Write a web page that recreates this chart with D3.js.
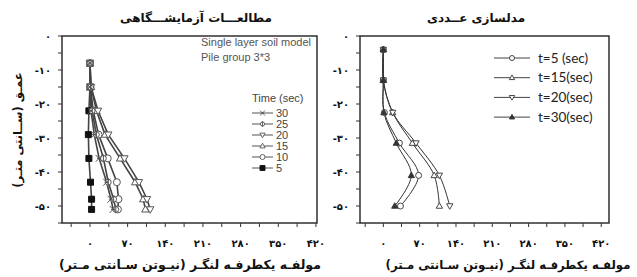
<!DOCTYPE html>
<html><head><meta charset="utf-8">
<script src="https://cdn.jsdelivr.net/npm/d3@7"></script>
<style>
html,body{margin:0;padding:0;background:#fff;}
svg{display:block;}
</style></head>
<body>
<svg id="c" width="637" height="277"></svg>
<script>
// ---------- DATA ----------
// Left panel: experimental (depth in cm, moment in N.cm)
const expDepths = [-8, -15, -22, -29, -36, -43, -48, -51];
const expT30 = [0, 0, 2, 8, 17, 31, 39, 43];
const expT25 = [0, 1, 4, 12, 25, 34, 44, 48];
const expT20 = [0, 2, 15, 34, 64, 91, 106, 112];
const expT15 = [0, 2, 12, 28, 56, 84, 99, 103];
const expT10 = [0, 1, 6, 16, 33, 50, 53, 52];
const expT5  = [0, 0, -2, -3, -2, 1, 3, 3];
const expLabels = ["30", "25", "20", "15", "10", "5"];

// Right panel: numerical
const numDepths = [-4, -13, -22.5, -31.5, -41, -50];
const numT5  = [0, 0, 2, 31, 68, 33];
const numT15 = [0, 0, 18, 56, 98, 108];
const numT20 = [0, 0, 18, 63, 108, 128];
const numT30 = [0, 0, 1, 25, 54, 22];
const numLabels = ["t=5 (sec)", "t=15(sec)", "t=20(sec)", "t=30(sec)"];

// Axis ticks
const yMajorTicks = [0, -10, -20, -30, -40, -50];
const yMinorTicks = [-5, -15, -25, -35, -45, -55];
const xMajorTicks = [0, 70, 140, 210, 280, 350, 420];
const xMinorTicks = [-35, 35, 105, 175, 245, 315, 385];

const titleLeft = "مطالعـــات آزمایشـــگاهی";
const titleRight = "مدلسازی عــددی";
const xTitleLeft = "مولفـه یکطرفـه لنگـر (نیـوتن سـانتی مـتر)";
const xTitleRight = "مولفـه یکطرفـه لنگـر (نیـوتن سـانتی مـتر)";
const yTitle = "عمـق (ســانتی متـر)";
const noteLines = ["Single layer soil model", "Pile group 3*3"];
const legendTitle = "Time (sec)";

// ---------- HELPERS ----------
const fa = n => String(n).replace(/\d/g, d => "۰۱۲۳۴۵۶۷۸۹"[+d]);
const svg = d3.select("#c");
const PFONT = "'DejaVu Sans', sans-serif";

function markerPath(kind, s) {
  const h = s / 2;
  switch (kind) {
    case "square": return `M${-h},${-h}H${h}V${h}H${-h}Z`;
    case "circle": return d3.symbol(d3.symbolCircle, Math.PI * h * h)();
    case "up": return `M0,${-h * 1.1}L${h * 1.05},${h * 0.75}L${-h * 1.05},${h * 0.75}Z`;
    case "down": return `M0,${h * 1.1}L${h * 1.05},${-h * 0.75}L${-h * 1.05},${-h * 0.75}Z`;
    case "x": return `M${-h},${-h}L${h},${h}M${-h},${h}L${h},${-h}M${-h*0.6},0H${h*0.6}`;
    case "phi": return d3.symbol(d3.symbolCircle, Math.PI * h * h * 0.7)() + `M0,${-h * 1.1}V${h * 1.1}`;
  }
}

function fitText(sel, target) {
  const w = sel.node().getComputedTextLength();
  const fs = parseFloat(sel.attr("font-size"));
  if (w > 0) sel.attr("font-size", Math.min(12.5, fs * target / w));
}

function drawAxes(g, x, y, x0, x1, y0, y1) {
  g.append("rect").attr("x", x0).attr("y", y0).attr("width", x1 - x0).attr("height", y1 - y0)
    .attr("fill", "none").attr("stroke", "#222").attr("stroke-width", 1.4);
  const yt = yMajorTicks.concat(yMinorTicks).filter(v => y(v) >= y0 - 0.5 && y(v) <= y1 + 0.5);
  g.selectAll(null).data(yt).enter().append("line")
    .attr("x1", x0 - 4).attr("x2", x0).attr("y1", d => y(d)).attr("y2", d => y(d))
    .attr("stroke", "#333").attr("stroke-width", 1);
  g.selectAll(null).data(yMajorTicks).enter().append("text")
    .attr("x", x0 - 11).attr("y", d => y(d)).attr("dy", "0.35em")
    .attr("text-anchor", "end").attr("font-family", PFONT).attr("font-weight", "bold")
    .attr("font-size", 10).attr("fill", "#111")
    .text(d => d === 0 ? "۰" : "-" + fa(-d));
  const xt = xMajorTicks.concat(xMinorTicks).filter(v => x(v) > x0 + 0.5 && x(v) < x1 - 0.5);
  g.selectAll(null).data(xt).enter().append("line")
    .attr("x1", d => x(d)).attr("x2", d => x(d)).attr("y1", y1).attr("y2", y1 + 4)
    .attr("stroke", "#333").attr("stroke-width", 1);
  g.selectAll(null).data(xMajorTicks).enter().append("text")
    .attr("x", d => x(d)).attr("y", y1 + 24)
    .attr("text-anchor", "middle").attr("font-family", PFONT).attr("font-weight", "bold")
    .attr("font-size", 10).attr("fill", "#111")
    .text(d => fa(d));
}

// ---------- LEFT PANEL ----------
{
  const x0 = 62, x1 = 317, y0 = 36, y1 = 223;
  const x = d3.scaleLinear().domain([-52, 422]).range([x0, x1]);
  const y = d3.scaleLinear().domain([0, -55]).range([y0, y1]);
  const g = svg.append("g");
  drawAxes(g, x, y, x0, x1, y0, y1);

  const series = [
    { vals: expT5, m: "square", fill: "#111" },
    { vals: expT10, m: "circle", fill: "#fff" },
    { vals: expT15, m: "up", fill: "#fff" },
    { vals: expT20, m: "down", fill: "#fff" },
    { vals: expT25, m: "phi", fill: "#fff" },
    { vals: expT30, m: "x", fill: "none" }
  ];
  const line = d3.line().x(d => x(d[0])).y(d => y(d[1]));
  series.forEach(s => {
    const pts = s.vals.map((v, i) => [v, expDepths[i]]);
    g.append("path").attr("d", line(pts)).attr("fill", "none")
      .attr("stroke", "#444").attr("stroke-width", 1.6);
  });
  series.forEach(s => {
    const pts = s.vals.map((v, i) => [v, expDepths[i]]);
    g.selectAll(null).data(pts).enter().append("path")
      .attr("transform", d => `translate(${x(d[0])},${y(d[1])})`)
      .attr("d", markerPath(s.m, s.m === "square" ? 6 : 7))
      .attr("fill", s.fill).attr("stroke", s.m === "square" ? "#111" : "#555").attr("stroke-width", 1);
  });

  g.selectAll(null).data(noteLines).enter().append("text")
    .attr("x", 201).attr("y", (d, i) => 46 + i * 15)
    .attr("font-family", "'Liberation Sans', Arial, sans-serif").attr("font-size", 11)
    .attr("fill", "#555").text(d => d);

  g.append("text").attr("x", 252).attr("y", 102)
    .attr("font-family", "'Liberation Sans', Arial, sans-serif").attr("font-size", 11)
    .attr("fill", "#444").text(legendTitle);
  const legSeries = [series[5], series[4], series[3], series[2], series[1], series[0]];
  legSeries.forEach((s, i) => {
    const ly = 113 + i * 11;
    g.append("line").attr("x1", 252).attr("x2", 273).attr("y1", ly).attr("y2", ly)
      .attr("stroke", "#555").attr("stroke-width", 1);
    g.append("path").attr("transform", `translate(262.5,${ly})`)
      .attr("d", markerPath(s.m, 5)).attr("fill", s.fill)
      .attr("stroke", s.m === "square" ? "#111" : "#555").attr("stroke-width", 0.9);
    g.append("text").attr("x", 276).attr("y", ly).attr("dy", "0.36em")
      .attr("font-family", "'Liberation Sans', Arial, sans-serif").attr("font-size", 11)
      .attr("fill", "#444").text(expLabels[i]);
  });

  g.append("text").attr("x", 196).attr("y", 22).attr("text-anchor", "middle")
    .attr("font-family", PFONT).attr("font-weight", "bold").attr("font-size", 12)
    .attr("fill", "#111").text(titleLeft);
  const xt = g.append("text").attr("x", 190).attr("y", 269).attr("text-anchor", "middle")
    .attr("font-family", PFONT).attr("font-weight", "bold").attr("font-size", 11.5)
    .attr("fill", "#111").text(xTitleLeft);
  fitText(xt, 272);
  g.append("text").attr("transform", "translate(22,130) rotate(-90)").attr("text-anchor", "middle")
    .attr("font-family", PFONT).attr("font-weight", "bold").attr("font-size", 11.5)
    .attr("fill", "#111").text(yTitle);
}

// ---------- RIGHT PANEL ----------
{
  const x0 = 360, x1 = 609, y0 = 36, y1 = 223;
  const x = d3.scaleLinear().domain([-45, 435]).range([x0, x1]);
  const y = d3.scaleLinear().domain([0, -55]).range([y0, y1]);
  const g = svg.append("g");
  drawAxes(g, x, y, x0, x1, y0, y1);

  const series = [
    { vals: numT5, m: "circle", fill: "#fff" },
    { vals: numT15, m: "up", fill: "#fff" },
    { vals: numT20, m: "down", fill: "#fff" },
    { vals: numT30, m: "up", fill: "#333" }
  ];
  const line = d3.line().curve(d3.curveCatmullRom.alpha(0.5)).x(d => x(d[0])).y(d => y(d[1]));
  series.forEach(s => {
    const pts = s.vals.map((v, i) => [v, numDepths[i]]);
    g.append("path").attr("d", line(pts)).attr("fill", "none")
      .attr("stroke", "#333").attr("stroke-width", 1);
  });
  series.forEach(s => {
    const pts = s.vals.map((v, i) => [v, numDepths[i]]);
    g.selectAll(null).data(pts).enter().append("path")
      .attr("transform", d => `translate(${x(d[0])},${y(d[1])})`)
      .attr("d", markerPath(s.m, 6)).attr("fill", s.fill)
      .attr("stroke", "#333").attr("stroke-width", 0.9);
  });

  series.forEach((s, i) => {
    const ly = 58 + i * 19.7;
    g.append("line").attr("x1", 494).attr("x2", 530).attr("y1", ly).attr("y2", ly)
      .attr("stroke", "#444").attr("stroke-width", 1);
    g.append("path").attr("transform", `translate(512,${ly})`)
      .attr("d", markerPath(s.m, 5)).attr("fill", s.fill)
      .attr("stroke", "#333").attr("stroke-width", 0.9);
    g.append("text").attr("x", 538).attr("y", ly).attr("dy", "0.35em")
      .attr("font-family", "Lato, 'Open Sans', sans-serif").attr("font-size", 13.5)
      .attr("fill", "#222").text(numLabels[i]);
  });

  g.append("text").attr("x", 476).attr("y", 22).attr("text-anchor", "middle")
    .attr("font-family", PFONT).attr("font-weight", "bold").attr("font-size", 12)
    .attr("fill", "#111").text(titleRight);
  const xt = g.append("text").attr("x", 508).attr("y", 269).attr("text-anchor", "middle")
    .attr("font-family", PFONT).attr("font-weight", "bold").attr("font-size", 11.5)
    .attr("fill", "#111").text(xTitleRight);
  fitText(xt, 245);
}
</script>
</body></html>
